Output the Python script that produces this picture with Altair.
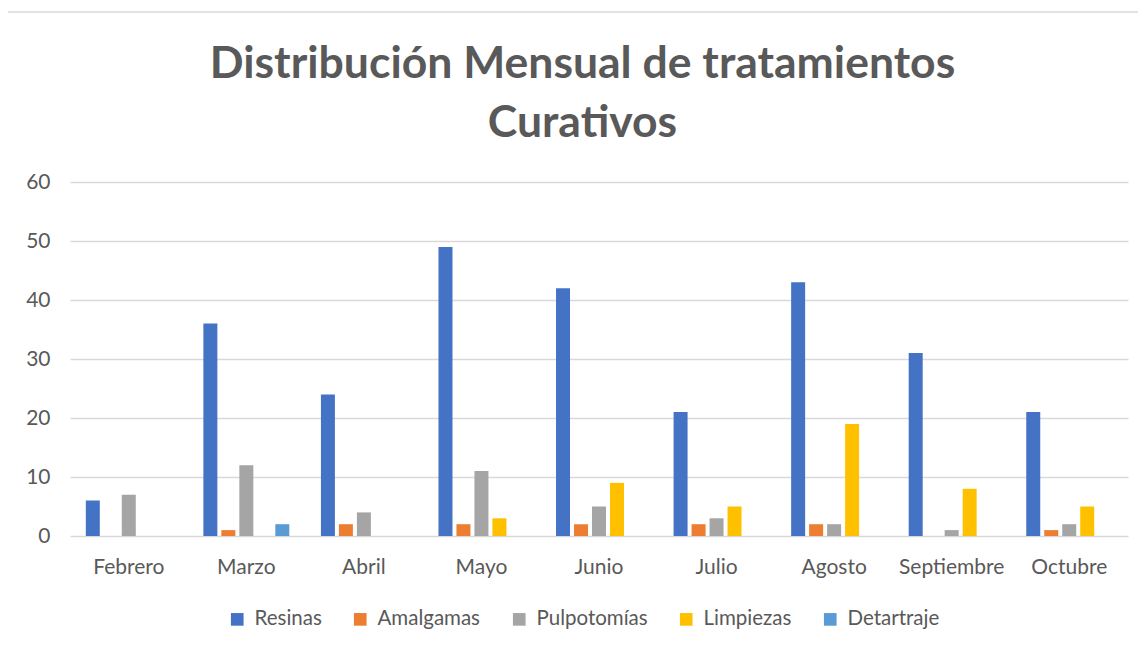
import altair as alt
import pandas as pd

title_lines = ["Distribución Mensual de tratamientos", "Curativos"]
months = ["Febrero", "Marzo", "Abril", "Mayo", "Junio", "Julio", "Agosto", "Septiembre", "Octubre"]
series = ["Resinas", "Amalgamas", "Pulpotomías", "Limpiezas", "Detartraje"]
resinas = [6, 36, 24, 49, 42, 21, 43, 31, 21]
amalgamas = [0, 1, 2, 2, 2, 2, 2, 0, 1]
pulpotomias = [7, 12, 4, 11, 5, 3, 2, 1, 2]
limpiezas = [0, 0, 0, 3, 9, 5, 19, 8, 5]
detartraje = [0, 2, 0, 0, 0, 0, 0, 0, 0]
colors = ["#4472C4", "#ED7D31", "#A5A5A5", "#FFC000", "#5B9BD5"]

values = [resinas, amalgamas, pulpotomias, limpiezas, detartraje]
rows = []
for s, vals in zip(series, values):
    for m, v in zip(months, vals):
        rows.append({"Mes": m, "Serie": s, "Valor": v})
df = pd.DataFrame(rows)

FONT = "Lato"
GREY = "#595959"

bars = alt.Chart(df).mark_bar().encode(
    x=alt.X("Mes:N", sort=months, title=None,
            scale=alt.Scale(paddingInner=0.269, paddingOuter=0.1345),
            axis=alt.Axis(labelAngle=0, labelFontSize=21, labelColor=GREY, labelFont=FONT,
                          labelPadding=20, ticks=False, domain=False, grid=False)),
    xOffset=alt.XOffset("Serie:N", sort=series, scale=alt.Scale(paddingInner=0.222, paddingOuter=0)),
    y=alt.Y("Valor:Q", title=None,
            scale=alt.Scale(domain=[0, 60], nice=False),
            axis=alt.Axis(values=[0, 10, 20, 30, 40, 50, 60], labelFontSize=21, labelColor=GREY,
                          labelFont=FONT, labelPadding=20, ticks=False, domain=False,
                          grid=True, gridColor="#d9d9d9", gridWidth=1.3)),
    color=alt.Color("Serie:N", sort=series,
                    scale=alt.Scale(domain=series, range=colors),
                    legend=alt.Legend(title=None, orient="none", direction="horizontal",
                                      legendX=157, legendY=427, symbolType="square",
                                      symbolSize=160, symbolStrokeWidth=0,
                                      labelFontSize=20.5, labelColor=GREY, labelFont=FONT,
                                      labelOffset=7, columnPadding=28)),
)

frame = alt.Chart(pd.DataFrame({"a": [0]})).mark_rect(
    fillOpacity=0, stroke="#d9d9d9", strokeWidth=1.5
).encode(
    x=alt.value(-63), x2=alt.value(1300), y=alt.value(-170), y2=alt.value(900)
)

title = alt.Chart(pd.DataFrame({"a": [0]})).mark_text(
    text=title_lines, font=FONT, fontSize=44.5, fontWeight="bold", color=GREY,
    lineHeight=59, align="center", baseline="alphabetic"
).encode(
    x=alt.value(512.5), y=alt.value(-104)
)

chart = alt.layer(frame, title, bars).properties(
    width=1058, height=354,
    padding={"left": 62, "top": 174, "right": 10, "bottom": 110},
    autosize=alt.AutoSizeParams(type="none"),
).configure_view(stroke=None)

chart.save("out.html", embed_options={"renderer": "svg", "actions": False})
